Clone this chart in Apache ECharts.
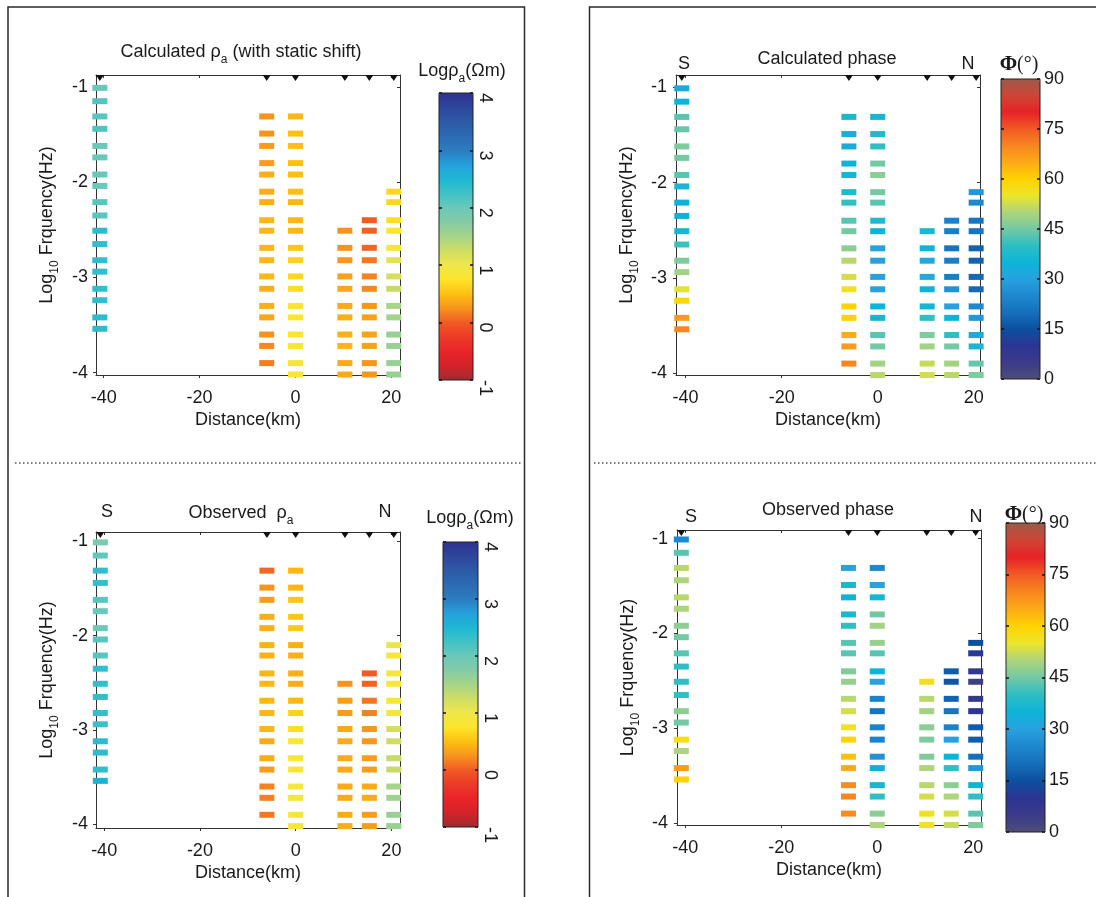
<!DOCTYPE html>
<html>
<head>
<meta charset="utf-8">
<script src="https://cdn.jsdelivr.net/npm/echarts@6/dist/echarts.min.js"></script>
<style>html,body{margin:0;padding:0;background:#fff}#c{width:1096px;height:897px}</style>
</head>
<body>
<div id="c"></div>
<script>
// ---------------- data ----------------
const stations = [-40.8, -6.0, 0.0, 10.3, 15.4, 20.5];           // km
const freqSouth = [-1.01, -1.15, -1.31, -1.44, -1.62, -1.74, -1.92, -2.04, -2.21, -2.35,
                   -2.51, -2.65, -2.82, -2.94, -3.12, -3.24, -3.42, -3.54];   // log10 Hz, station 1
const freqOther = [-1.31, -1.49, -1.62, -1.80, -1.92, -2.10, -2.21, -2.40, -2.51, -2.69,
                   -2.82, -2.99, -3.12, -3.30, -3.42, -3.60, -3.72, -3.90, -4.02]; // log10 Hz, stations 2-6
const rowStart = [0, 0, 0, 8, 7, 5];   // first frequency index for each station (stations 2-6 use freqOther)

const calcRho = [
  [2.0, 2.15, 2.1, 2.15, 2.0, 2.0, 2.0, 2.0, 2.1, 2.1, 2.4, 2.35, 2.35, 2.35, 2.35, 2.35, 2.4, 2.4],
  [0.25, 0.25, 0.3, 0.3, 0.4, 0.4, 0.4, 0.45, 0.45, 0.45, 0.45, 0.45, 0.4, 0.4, 0.35, 0.25, 0.2, 0.15],
  [0.45, 0.5, 0.5, 0.5, 0.5, 0.5, 0.45, 0.45, 0.45, 0.55, 0.62, 0.65, 0.7, 0.78, 0.8, 0.8, 0.8, 0.85, 0.8],
  [0.25, 0.25, 0.27, 0.33, 0.36, 0.38, 0.4, 0.42, 0.45, 0.38, 0.38],
  [0.0, 0.02, 0.05, 0.12, 0.17, 0.2, 0.26, 0.33, 0.33, 0.33, 0.26, 0.26],
  [0.65, 0.65, 0.7, 0.8, 0.88, 1.1, 1.2, 1.3, 1.5, 1.52, 1.6, 1.6, 1.6, 1.6]
];
const obsRho = [
  [1.85, 2.05, 2.35, 2.35, 2.1, 2.0, 1.95, 2.1, 2.1, 2.35, 2.35, 2.35, 2.35, 2.3, 2.4, 2.4, 2.35, 2.6],
  [0.05, 0.25, 0.3, 0.4, 0.4, 0.42, 0.42, 0.45, 0.45, 0.45, 0.45, 0.45, 0.38, 0.38, 0.3, 0.17, 0.17, 0.12],
  [0.45, 0.45, 0.55, 0.55, 0.55, 0.4, 0.4, 0.4, 0.38, 0.45, 0.62, 0.7, 0.78, 0.82, 0.82, 0.88, 0.88, 0.88, 0.82],
  [0.25, 0.3, 0.3, 0.36, 0.38, 0.38, 0.38, 0.38, 0.38, 0.38, 0.4],
  [0.0, 0.04, 0.12, 0.17, 0.26, 0.26, 0.3, 0.3, 0.38, 0.38, 0.3, 0.3],
  [1.05, 0.85, 0.88, 0.88, 0.88, 0.88, 1.2, 1.25, 1.3, 1.3, 1.5, 1.55, 1.6, 1.6]
];
const calcPhase = [
  [32, 35, 43, 44, 46, 45, 43, 37, 34, 34, 36, 41, 46, 49, 54, 59, 67, 70],
  [37, 33, 33, 35, 36, 38, 40, 43, 45, 47, 51, 53, 56, 60, 60, 65, 67, 70],
  [36, 38, 40, 45, 47, 45, 43, 38, 35, 30, 30, 30, 30, 35, 36, 43, 45, 49, 51],
  [37, 35, 32, 32, 35, 36, 40, 46, 49, 52, 53],
  [24, 23, 21, 23, 23, 27, 30, 35, 40, 45, 49, 51],
  [28, 25, 21, 21, 18, 18, 19, 19, 25, 28, 32, 37, 44, 46]
];
const obsPhase = [
  [25, 43, 51, 50, 51, 50, 47, 45, 43, 40, 40, 40, 47, 45, 57, 50, 67, 60],
  [30, 37, 35, 37, 40, 43, 43, 46, 48, 51, 53, 56, 59, 62, 65, 69, 70, 69],
  [25, 30, 36, 45, 49, 48, 43, 35, 30, 24, 21, 24, 24, 27, 33, 36, 40, 47, 50],
  [57, 51, 49, 47, 46, 46, 50, 51, 53, 56, 56],
  [17, 16, 18, 21, 24, 30, 35, 40, 47, 50, 53, 52],
  [15, 11, 8, 4, 7, 9, 17, 17, 20, 28, 35, 40, 43, 46]
];

const distTicks = [-40, -20, 0, 20];
const freqTicks = [-4, -3, -2, -1];
const rhoTicks = [-1, 0, 1, 2, 3, 4];
const phaseTicks = [0, 15, 30, 45, 60, 75, 90];

// colour scales (evenly spaced stops)
const rhoColors = ['#9e2a2e', '#d42329', '#e92429', '#ec3a28', '#f15a24', '#f7941d', '#fdc012',
  '#fde52a', '#eee74a', '#cfdd64', '#a6d488', '#84cba6', '#6ac8b8', '#40c2c6', '#1eb8d4',
  '#25a0dc', '#2b7cc0', '#2c6bb4', '#2d5aa7', '#2d469c', '#2e3192'];
const phaseColors = ['#4d4d78', '#3b3b8a', '#2c3593', '#0c4fa0', '#1570bb', '#1e88cf', '#27a2df',
  '#0db4d8', '#2ebec4', '#74c9a3', '#aed47c', '#ece52a', '#ffd200', '#fcaa17', '#f7861f',
  '#f15a24', '#e82227', '#cf4536', '#9c5a49'];

// ---------------- build ----------------
const FF = '"Liberation Sans", Arial, Helvetica, sans-serif';
const SERIF = '"Liberation Serif", "Times New Roman", serif';
const INK = '#1a1a1a';
const AX = '#333333';

function buildPoints(values) {
  const pts = [];
  values.forEach((col, c) => {
    col.forEach((v, i) => {
      const f = c === 0 ? freqSouth[i] : freqOther[rowStart[c] + i];
      pts.push([stations[c], f, v]);
    });
  });
  return pts;
}

const panelDefs = [
  {vals: calcRho,   left: 96,  top: 75,  width: 304, height: 300, xmin: -41.6, xmax: 21.8, ymin: -4.025, ymax: -0.875, ym: 8},
  {vals: calcPhase, left: 676, top: 75,  width: 304, height: 300, xmin: -42.0, xmax: 21.3, ymin: -4.02,  ymax: -0.87,  ym: 9},
  {vals: obsRho,    left: 96,  top: 532, width: 304, height: 296, xmin: -41.7, xmax: 21.8, ymin: -4.04,  ymax: -0.90,  ym: 8},
  {vals: obsPhase,  left: 677, top: 530, width: 304, height: 295, xmin: -41.7, xmax: 21.6, ymin: -4.02,  ymax: -0.91,  ym: 9}
];

const cbDefs = [
  {left: 439,  top: 93,  width: 34, height: 287, min: -1, max: 4,  colors: rhoColors,   ticks: rhoTicks,   rot: true,  series: 0},
  {left: 1001, top: 79,  width: 39, height: 300, min: 0,  max: 90, colors: phaseColors, ticks: phaseTicks, rot: false, series: 2},
  {left: 443,  top: 542, width: 35, height: 285, min: -1, max: 4,  colors: rhoColors,   ticks: rhoTicks,   rot: true,  series: 4},
  {left: 1006, top: 523, width: 39, height: 309, min: 0,  max: 90, colors: phaseColors, ticks: phaseTicks, rot: false, series: 6}
];

const axisRich = {
  n: {fontSize: 18, fontFamily: FF, color: INK},
  s: {fontSize: 12, fontFamily: FF, color: INK, padding: [15, 0, 0, 0]}
};

const grid = [], xAxis = [], yAxis = [], series = [], visualMap = [];

panelDefs.forEach((p) => {
  grid.push({left: p.left, top: p.top, width: p.width, height: p.height, containLabel: false});
  const gi = grid.length - 1;
  const line = {onZero: false, lineStyle: {color: AX, width: 1}};
  xAxis.push({
    gridIndex: gi, type: 'value', min: p.xmin, max: p.xmax, position: 'bottom',
    name: 'Distance(km)', nameLocation: 'middle', nameGap: 36,
    nameTextStyle: {fontSize: 18, fontFamily: FF, color: INK},
    axisLine: line,
    axisTick: {inside: false, length: 3, customValues: distTicks, lineStyle: {color: AX}},
    axisLabel: {customValues: distTicks, margin: 14, fontSize: 18, fontFamily: FF, color: INK},
    splitLine: {show: false}
  });
  xAxis.push({
    gridIndex: gi, type: 'value', min: p.xmin, max: p.xmax, position: 'top',
    axisLine: line,
    axisTick: {inside: true, length: 3, customValues: distTicks, lineStyle: {color: AX}},
    axisLabel: {show: false}, splitLine: {show: false}
  });
  yAxis.push({
    gridIndex: gi, type: 'value', min: p.ymin, max: p.ymax, position: 'left',
    name: '{n|Log}{s|10}{n| Frquency(Hz)}', nameLocation: 'middle', nameGap: 35, nameRotate: 90,
    nameTextStyle: {fontSize: 18, fontFamily: FF, color: INK, rich: axisRich},
    axisLine: line,
    axisTick: {inside: false, length: 3, customValues: freqTicks, lineStyle: {color: AX}},
    axisLabel: {customValues: freqTicks, margin: p.ym, fontSize: 18, fontFamily: FF, color: INK},
    splitLine: {show: false}
  });
  yAxis.push({
    gridIndex: gi, type: 'value', min: p.ymin, max: p.ymax, position: 'right',
    axisLine: line,
    axisTick: {inside: true, length: 3, customValues: freqTicks, lineStyle: {color: AX}},
    axisLabel: {show: false}, splitLine: {show: false}
  });
  const xi = xAxis.length - 2, yi = yAxis.length - 2;
  series.push({
    type: 'scatter', xAxisIndex: xi, yAxisIndex: yi, symbol: 'rect', symbolSize: [15, 6],
    itemStyle: {opacity: 1},
    data: buildPoints(p.vals), clip: false, silent: true, z: 2
  });
  series.push({
    type: 'scatter', xAxisIndex: xi, yAxisIndex: yi,
    symbol: 'path://M0,0L10,0L5,8Z', symbolKeepAspect: false, symbolSize: [8, 6], symbolOffset: [0, 3],
    data: stations.map(s => [s, p.ymax]), itemStyle: {color: '#111', opacity: 1}, clip: false, silent: true, z: 5
  });
});

cbDefs.forEach((c) => {
  visualMap.push({
    type: 'continuous', seriesIndex: c.series, dimension: 2, min: c.min, max: c.max,
    inRange: {color: c.colors}, calculable: false, hoverLink: false, realtime: false,
    left: c.left, top: c.top, itemWidth: c.width, itemHeight: c.height, padding: 0,
    text: null, orient: 'vertical', z: 4
  });
  grid.push({left: c.left, top: c.top, width: c.width, height: c.height, show: true,
    borderColor: '#222', borderWidth: 1, backgroundColor: 'transparent', z: 10});
  const gi = grid.length - 1;
  xAxis.push({gridIndex: gi, type: 'value', min: 0, max: 1, show: false});
  yAxis.push({
    gridIndex: gi, type: 'value', min: c.min, max: c.max, position: 'left', z: 10,
    axisLine: {show: false, onZero: false},
    axisTick: {inside: true, length: 3, customValues: c.ticks, lineStyle: {color: '#111', width: 1.5}},
    axisLabel: {show: false}, splitLine: {show: false}
  });
  yAxis.push({
    gridIndex: gi, type: 'value', min: c.min, max: c.max, position: 'right', z: 10,
    axisLine: {show: false, onZero: false},
    axisTick: {inside: true, length: 3, customValues: c.ticks, lineStyle: {color: '#111', width: 1.5}},
    axisLabel: c.rot
      ? {customValues: c.ticks, rotate: -90, align: 'left', verticalAlign: 'bottom', margin: 3,
         fontSize: 18, fontFamily: FF, color: INK}
      : {customValues: c.ticks, margin: 4, fontSize: 18, fontFamily: FF, color: INK},
    splitLine: {show: false}
  });
});

const RICH = {
  n: {fontSize: 18, fontFamily: FF, fill: INK},
  s: {fontSize: 12, fontFamily: FF, fill: INK, padding: [15, 0, 0, 0]},
  p: {fontSize: 21, fontFamily: SERIF, fontWeight: 'bold', fill: INK},
  q: {fontSize: 20, fontFamily: SERIF, fill: INK}
};
function txt(x, y, text) {
  return {type: 'text', x: x, y: y, silent: true, z: 20,
    style: {text: text, align: 'center', verticalAlign: 'middle', fill: INK,
      font: '18px ' + FF, rich: RICH}};
}
const frameStyle = {fill: 'none', stroke: '#2a2a2a', lineWidth: 1.5};
const dotStyle = {stroke: '#555', lineWidth: 1.5, lineDash: [1.5, 2.5]};

const graphic = [
  {type: 'rect', silent: true, shape: {x: 8, y: 7, width: 516.5, height: 930}, style: frameStyle},
  {type: 'rect', silent: true, shape: {x: 589.5, y: 7, width: 560, height: 930}, style: frameStyle},
  {type: 'line', silent: true, shape: {x1: 15, y1: 463, x2: 523, y2: 463}, style: dotStyle},
  {type: 'line', silent: true, shape: {x1: 594, y1: 463, x2: 1096, y2: 463}, style: dotStyle},
  txt(241, 52, '{n|Calculated ρ}{s|a}{n| (with static shift)}'),
  txt(462, 71, '{n|Logρ}{s|a}{n|(Ωm)}'),
  txt(827, 59, '{n|Calculated phase}'),
  txt(684, 64.5, '{n|S}'),
  txt(968, 64.5, '{n|N}'),
  txt(1019, 65, '{p|Φ}{q|(°)}'),
  txt(107, 512.5, '{n|S}'),
  txt(241, 513, '{n|Observed  ρ}{s|a}'),
  txt(385, 512.5, '{n|N}'),
  txt(470, 518, '{n|Logρ}{s|a}{n|(Ωm)}'),
  txt(828, 510, '{n|Observed phase}'),
  txt(691, 517.5, '{n|S}'),
  txt(976, 517.5, '{n|N}'),
  txt(1024, 515, '{p|Φ}{q|(°)}')
];

const chart = echarts.init(document.getElementById('c'), null, {renderer: 'canvas'});
chart.setOption({
  animation: false,
  backgroundColor: '#ffffff',
  textStyle: {fontFamily: FF},
  grid: grid, xAxis: xAxis, yAxis: yAxis, series: series, visualMap: visualMap, graphic: graphic
});
</script>
</body>
</html>
